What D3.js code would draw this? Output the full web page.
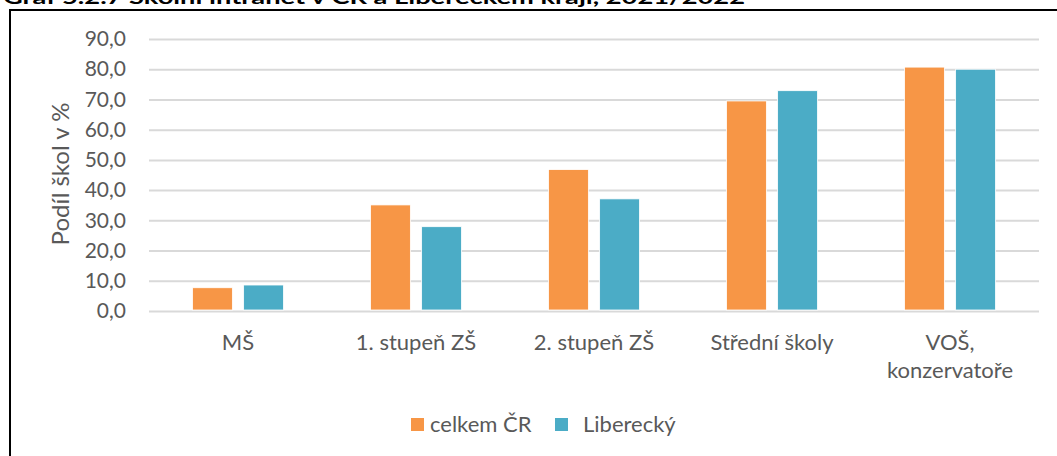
<!DOCTYPE html>
<html>
<head>
<meta charset="utf-8">
<script src="https://cdn.jsdelivr.net/npm/d3@7"></script>
<style>
  body { margin: 0; background: #fff; }
  text { font-family: Lato, "Open Sans", sans-serif; }
</style>
</head>
<body>
<div id="chart"></div>
<script>
// data
const categories = ["MŠ", "1. stupeň ZŠ", "2. stupeň ZŠ", "Střední školy", "VOŠ, konzervatoře"];
const seriesNames = ["celkem ČR", "Liberecký"];
const celkemCR = [7.7, 35.1, 46.8, 69.5, 80.7];
const liberecky = [8.6, 27.9, 37.1, 72.9, 80.0];
const yTicks = [0, 10, 20, 30, 40, 50, 60, 70, 80, 90];
const colors = ["#F79646", "#4BACC6"];

const width = 1057, height = 456;

const svg = d3.select("#chart").append("svg")
    .attr("width", width).attr("height", height)
    .attr("viewBox", "0 0 1057 456");

// frame (right + bottom edges fall outside the picture)
svg.append("rect")
    .attr("x", 10).attr("y", 10)
    .attr("width", 1100).attr("height", 500)
    .style("fill", "none")
    .style("stroke", "#000")
    .style("stroke-width", 2);

// title, cut off at the top like in the source
svg.append("text")
    .attr("x", 3).attr("y", 4)
    .attr("textLength", 742).attr("lengthAdjust", "spacingAndGlyphs")
    .style("font-size", "18px").style("font-weight", "700")
    .style("fill", "#000")
    .text("Graf 5.2.7 Školní intranet v ČR a Libereckém kraji, 2021/2022");

const plotL = 149, plotR = 1039, plotT = 39, plotB = 311;

const x = d3.scaleBand().domain(categories).range([plotL, plotR]);
const xSub = d3.scaleBand().domain(seriesNames)
    .range([x.bandwidth() / 2 - 45.5, x.bandwidth() / 2 + 45.5])
    .paddingInner(0.22);
const y = d3.scaleLinear().domain([0, 90]).range([plotB, plotT]);

const fmt = v => d3.format(".1f")(v).replace(".", ",");

// y axis + gridlines
const yAxis = svg.append("g")
    .attr("transform", `translate(${plotL},0)`)
    .call(d3.axisLeft(y).tickValues(yTicks).tickSize(-(plotR - plotL)).tickPadding(23).tickFormat(fmt));
yAxis.select(".domain").remove();
yAxis.selectAll(".tick line").style("stroke", "#D9D9D9").style("stroke-width", 2);
yAxis.selectAll(".tick text")
    .style("font-size", "21px").style("fill", "#595959")
    .style("font-family", "Lato, sans-serif");

// bars
const rows = categories.map((c, i) => ({cat: c, vals: [celkemCR[i], liberecky[i]]}));
const groups = svg.append("g").selectAll("g").data(rows)
    .enter().append("g")
    .attr("transform", d => `translate(${x(d.cat)},0)`);

groups.selectAll("rect")
    .data(d => d.vals.map((v, j) => ({name: seriesNames[j], v: v, j: j})))
    .enter().append("rect")
    .attr("x", d => xSub(d.name))
    .attr("width", xSub.bandwidth())
    .attr("y", d => y(d.v))
    .attr("height", d => y(0) - y(d.v) - 1)
    .style("fill", d => colors[d.j])
    .style("stroke", "#fff")
    .style("stroke-width", 0.8);

// x axis labels
const xAxis = svg.append("g")
    .attr("transform", `translate(0,${plotB})`)
    .call(d3.axisBottom(x).tickSize(0).tickPadding(0));
xAxis.select(".domain").remove();
xAxis.selectAll(".tick text")
    .style("font-size", "22px").style("fill", "#595959")
    .style("font-family", "Lato, sans-serif")
    .attr("y", 39).attr("dy", 0)
    .each(function(d) {
        const lines = d.split(/(?<=,)\s/);
        const t = d3.select(this).text(null);
        lines.forEach((ln, k) => {
            t.append("tspan").attr("x", 0).attr("dy", k ? 28 : 0).text(ln);
        });
    });

// y title
svg.append("text")
    .attr("transform", "translate(69,174) rotate(-90)")
    .attr("text-anchor", "middle")
    .style("font-size", "24px").style("fill", "#595959")
    .text("Podíl škol v %");

// legend
const legendX = [411, 555], legendTextX = [430, 583];
const legend = svg.append("g").selectAll("g").data(seriesNames)
    .enter().append("g");
legend.append("rect")
    .attr("x", (d, i) => legendX[i]).attr("y", 418)
    .attr("width", 13).attr("height", 13)
    .style("fill", (d, i) => colors[i]);
legend.append("text")
    .attr("x", (d, i) => legendTextX[i]).attr("y", 432)
    .style("font-size", "22px").style("fill", "#595959")
    .text(d => d);
</script>
</body>
</html>
